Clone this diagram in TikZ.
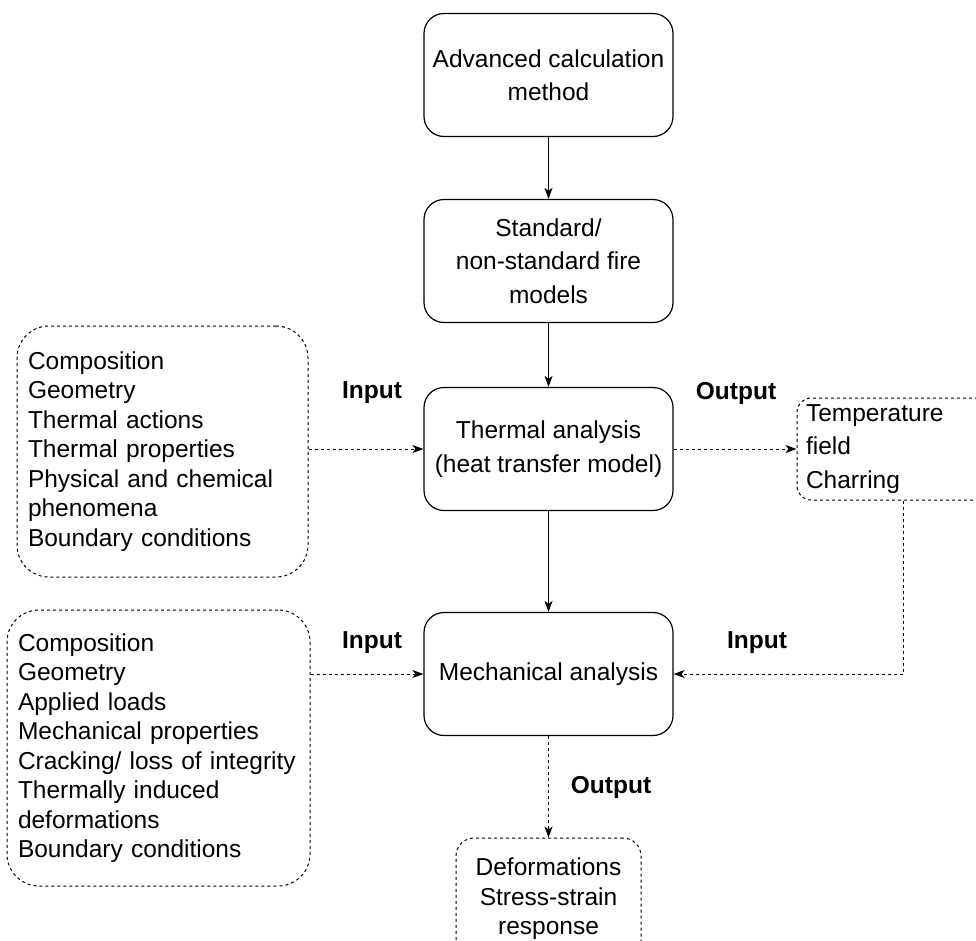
\documentclass[tikz,border=0pt]{standalone}
\usepackage{fontspec}
\setmainfont{Liberation Sans}
\usetikzlibrary{arrows.meta}

\begin{document}
\begin{tikzpicture}[x=1pt,y=-1pt,
    stepbox/.style={draw=black, line width=1.2pt, rounded corners=20pt, minimum width=249pt, minimum height=123pt, align=center, font=\fontsize{24.5}{33.5}\selectfont},
    listbox/.style={draw=black, line width=1pt, dash pattern=on 3pt off 3pt, rounded corners=32pt, inner xsep=11pt, align=left, font=\fontsize{24.5}{29.5}\selectfont},
    flow/.style={line width=1.1pt, -{Stealth[length=11pt,width=8pt,inset=3pt]}},
    dflow/.style={line width=1pt, dash pattern=on 3pt off 3pt, -{Stealth[length=11pt,width=8pt,inset=3pt]}},
    lbl/.style={font=\fontsize{24.5}{28}\selectfont\bfseries}]
    \clip (0,0) rectangle (976,940);
    \useasboundingbox (0,0) rectangle (976,940);
    % main chain
    \node[stepbox] (advanced) at (548.5,75) {Advanced calculation\\method};
    \node[stepbox] (fire) at (548.5,261) {Standard/\\non-standard fire\\models};
    \node[stepbox] (thermal) at (548.5,449) {Thermal analysis\\(heat transfer model)};
    \node[stepbox] (mech) at (548.5,674) {Mechanical analysis};
    % inputs and outputs
    \node[listbox, minimum height=251pt, text width=269pt] (thermin) at (162.5,451.5) {Composition\\Geometry\\Thermal actions\\Thermal properties\\Physical and chemical\\phenomena\\Boundary conditions};
    \node[listbox, minimum height=276pt, text width=281pt] (mechin) at (158.5,748) {Composition\\Geometry\\Applied loads\\Mechanical properties\\Cracking/ loss of integrity\\Thermally induced\\deformations\\Boundary conditions};
    \node[listbox, rounded corners=14pt, inner xsep=9pt, minimum height=102pt, text width=195pt, font=\fontsize{24.5}{33.5}\selectfont] (temp) at (903.5,449) {Temperature\\field\\Charring};
    \node[listbox, rounded corners=18pt, minimum width=185pt, minimum height=122pt, align=center] (resp) at (548.5,899) {Deformations\\Stress-strain\\response};
    % labels
    \node[lbl] (inlbla) at (372,393) {Input};
    \node[lbl] (outlbla) at (736,393) {Output};
    \node[lbl] (inlblb) at (372,643) {Input};
    \node[lbl] (inlblc) at (757,643) {Input};
    \node[lbl] (outlblb) at (611,787) {Output};
    % connectors
    \draw[flow] (advanced) -- (fire);
    \draw[flow] (fire) -- (thermal);
    \draw[flow] (thermal) -- (mech);
    \draw[dflow] (thermin.east |- thermal.west) -- (thermal.west);
    \draw[dflow] (thermal.east) -- (temp.west);
    \draw[dflow] (mechin.east |- mech.west) -- (mech.west);
    \draw[dflow] (temp.south) |- (mech.east);
    \draw[dflow] (mech) -- (resp);
\end{tikzpicture}
\end{document}
